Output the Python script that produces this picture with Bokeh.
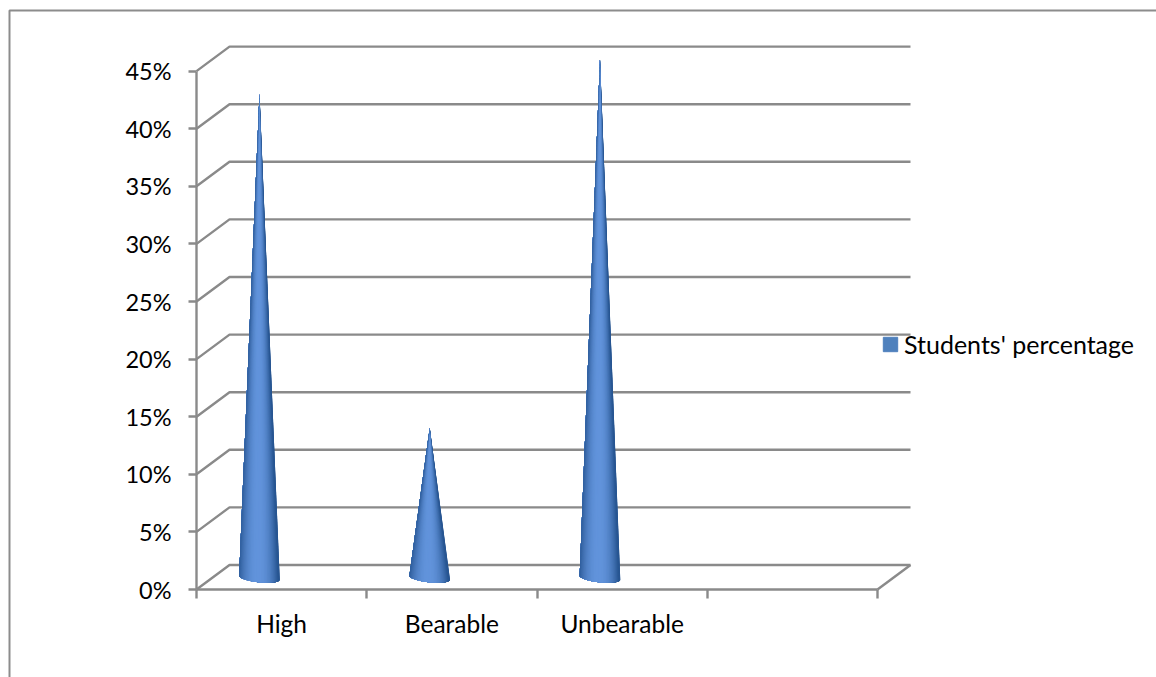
import math
from bokeh.plotting import figure
from bokeh.models import FixedTicker, Range1d, LinearAxis, BoxAnnotation, Legend, LegendItem
from bokeh.embed import file_html
from bokeh.resources import INLINE

categories = ["High", "Bearable", "Unbearable"]
values = [42, 13, 45]
y_ticks = [0, 5, 10, 15, 20, 25, 30, 35, 40, 45]
y_labels = ["0%", "5%", "10%", "15%", "20%", "25%", "30%", "35%", "40%", "45%"]
series_name = "Students' percentage"

W, H = 1156, 677
GRAY = "#8a8a8a"
LW = 2.4
FONT = "Lato"

x_per_cat = 170.25
y_per_pct = 11.52
x0_px, y0_px = 196, 589
dx = 33 / x_per_cat   # depth of the 3D floor
dy = 24.5 / y_per_pct
n_slots = 4

p = figure(width=W, height=H, output_backend="svg", toolbar_location=None,
           x_range=Range1d(-x0_px / x_per_cat, (W - x0_px) / x_per_cat),
           y_range=Range1d(-(H - y0_px) / y_per_pct, y0_px / y_per_pct),
           x_axis_type=None, y_axis_type=None,
           min_border_left=0, min_border_right=0, min_border_top=0, min_border_bottom=0,
           outline_line_color=None, background_fill_color="white", border_fill_color="white")
p.xgrid.visible = False
p.ygrid.visible = False

# outer chart frame (runs off the page at right and bottom)
p.add_layout(BoxAnnotation(left=9, right=1300, top=10, bottom=900,
                           left_units="canvas", right_units="canvas",
                           top_units="canvas", bottom_units="canvas",
                           fill_alpha=0, line_color="#8c8c8c", line_alpha=1, line_width=2,
                           level="underlay"))

# 3D walls
xs, ys = [], []
for t in y_ticks:
    xs.append([0, dx, n_slots + dx])
    ys.append([t, t + dy, t + dy])
xs.append([n_slots, n_slots + dx])
ys.append([0, dy])
p.multi_line(xs, ys, line_color=GRAY, line_width=LW)

# cones: shaded slices painted left-over-right so no seams show
r_x = 20.3 / x_per_cat
r_y = 4.6 / y_per_pct
tilt = 2.0 / y_per_pct
base = 1.02
offset = 0.37
N = 40
dark = (40, 86, 146)
light = (98, 148, 220)


def rim(xc, a):
    return xc + r_x * math.cos(a), base - r_y * math.sin(a) - tilt * math.cos(a)


sx, sy, sc = [], [], []
for i, v in enumerate(values):
    xc = i + offset
    for k in range(N):
        a0 = math.pi * k / N
        u = math.cos(a0 + math.pi / (2 * N))
        w = max(0.0, 1 - abs(u + 0.08) ** 2.2)
        col = tuple(int(dark[c] + (light[c] - dark[c]) * w) for c in range(3))
        pts = [rim(xc, a0 + (math.pi - a0) * j / 24) for j in range(25)]
        sx.append([xc] + [q[0] for q in pts])
        sy.append([v + base] + [q[1] for q in pts])
        sc.append("#%02x%02x%02x" % col)
p.patches(sx, sy, fill_color=sc, line_color=None)

# axes
yaxis = LinearAxis(fixed_location=0, ticker=FixedTicker(ticks=y_ticks),
                   major_label_overrides={t: l for t, l in zip(y_ticks, y_labels)},
                   bounds=(0, 45), axis_line_color=GRAY, axis_line_width=LW,
                   major_tick_line_color=GRAY, major_tick_line_width=LW,
                   major_tick_in=0, major_tick_out=8, minor_tick_line_color=None,
                   major_label_text_font=FONT, major_label_text_font_size="23.5px",
                   major_label_text_color="black", major_label_standoff=17)
p.add_layout(yaxis, "left")

label_pos = [i + 0.5 for i in range(len(categories))]
xaxis = LinearAxis(fixed_location=0,
                   ticker=FixedTicker(ticks=label_pos, minor_ticks=list(range(n_slots + 1))),
                   major_label_overrides={t: l for t, l in zip(label_pos, categories)},
                   bounds=(0, n_slots), axis_line_color=GRAY, axis_line_width=LW,
                   major_tick_line_color=None, major_tick_in=0, major_tick_out=0,
                   minor_tick_line_color=GRAY, minor_tick_line_width=LW,
                   minor_tick_in=0, minor_tick_out=9,
                   major_label_text_font=FONT, major_label_text_font_size="24.5px",
                   major_label_text_color="black", major_label_standoff=10)
p.add_layout(xaxis, "below")

# legend
proxy = p.quad(left=[float("nan")], right=[float("nan")], top=[float("nan")], bottom=[float("nan")],
               fill_color="#4f81bd", line_color="#4f81bd")
legend = Legend(items=[LegendItem(label=series_name, renderers=[proxy])],
                location=(881, 318), orientation="vertical",
                background_fill_alpha=0, border_line_color=None,
                padding=0, margin=0, spacing=0, label_standoff=5,
                glyph_width=18, glyph_height=18, label_height=18,
                label_text_font=FONT, label_text_font_size="25px", label_text_color="black")
p.add_layout(legend, "center")

open("out.html", "w").write(file_html(p, INLINE))
